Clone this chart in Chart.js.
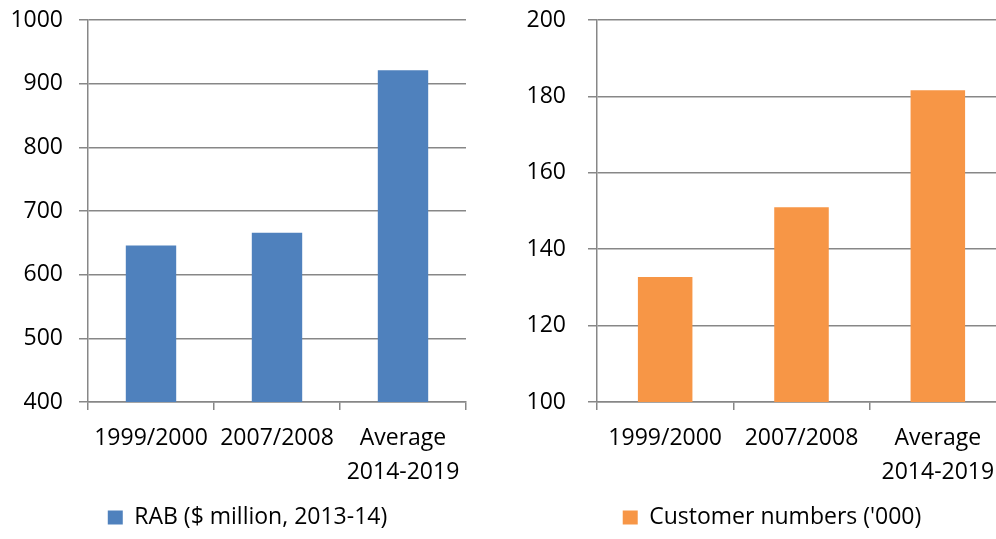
<!DOCTYPE html>
<html>
<head>
<meta charset="utf-8">
<script src="https://cdn.jsdelivr.net/npm/chart.js@4/dist/chart.umd.min.js"></script>
<style>
  html, body { margin: 0; padding: 0; background: #ffffff; overflow: hidden; }
  body { width: 996px; height: 539px; position: relative; }
  .box { position: absolute; top: 0; height: 539px; }
  #leftBox { left: 0; width: 495px; }
  #rightBox { left: 500px; width: 544px; }
</style>
</head>
<body>
<div class="box" id="leftBox"><canvas id="rabChart"></canvas></div>
<div class="box" id="rightBox"><canvas id="custChart"></canvas></div>
<script>
// Data
const categories = ["1999/2000", "2007/2008", ["Average", "2014-2019"]];
const rabValues = [646, 666, 921];
const customerValues = [132.7, 151, 181.6];
const rabTicks = [400, 500, 600, 700, 800, 900, 1000];
const customerTicks = [100, 120, 140, 160, 180, 200];

const font = { family: "'Open Sans', sans-serif", size: 23 };
const gridColor = "#878787";

function makeChart(id, label, values, ticks, color, yWidth, yPad, rightGap) {
  const ctx = document.getElementById(id).getContext("2d");
  return new Chart(ctx, {
    type: "bar",
    data: {
      labels: categories,
      datasets: [
        {
          label: label,
          data: values,
          backgroundColor: color,
          borderWidth: 0,
          categoryPercentage: 1,
          barPercentage: 0.4,
        },
      ],
    },
    options: {
      responsive: true,
      maintainAspectRatio: false,
      animation: false,
      layout: {
        autoPadding: false,
        padding: { top: 20, right: 0, bottom: 0, left: 0 },
      },
      plugins: {
        tooltip: { enabled: false },
        legend: {
          position: "bottom",
          labels: {
            color: "#000000",
            font: font,
            boxWidth: 15,
            boxHeight: 14,
            padding: 4,
          },
        },
      },
      scales: {
        x: {
          offset: true,
          grid: {
            offset: true,
            drawOnChartArea: false,
            drawTicks: true,
            tickLength: 8,
            color: gridColor,
            lineWidth: 1.5,
          },
          border: { color: gridColor, width: 1.5 },
          ticks: {
            color: "#000000",
            font: { ...font, lineHeight: 1.45 },
            maxRotation: 0,
            autoSkip: false,
            padding: 12,
          },
          afterFit: (s) => {
            s.height = 100;
            s.paddingLeft = 0;
            s.paddingRight = 0;
          },
        },
        y: {
          min: ticks[0],
          max: ticks[ticks.length - 1],
          afterBuildTicks: (s) => { s.ticks = ticks.map((v) => ({ value: v })); },
          grid: {
            color: gridColor,
            lineWidth: 1.5,
            drawTicks: true,
            tickLength: 9,
          },
          border: { color: gridColor, width: 1.5 },
          ticks: {
            color: "#000000",
            font: font,
            padding: yPad,
            callback: (v) => String(v),
          },
          afterFit: (s) => {
            s.width = yWidth;
            s.paddingTop = 0;
            s.paddingBottom = 0;
          },
        },
        // empty space on the right so the legend sits where it does in the picture
        gap: {
          type: "linear",
          position: "right",
          grid: { display: false },
          border: { display: false },
          ticks: { display: false },
          afterFit: (s) => { s.width = rightGap; },
        },
      },
    },
  });
}

makeChart("rabChart", "RAB ($ million, 2013-14)", rabValues, rabTicks, "#4F81BD", 88, 16, 29);
makeChart("custChart", "Customer numbers ('000)", customerValues, customerTicks, "#F79646", 97, 22, 38);
</script>
</body>
</html>
